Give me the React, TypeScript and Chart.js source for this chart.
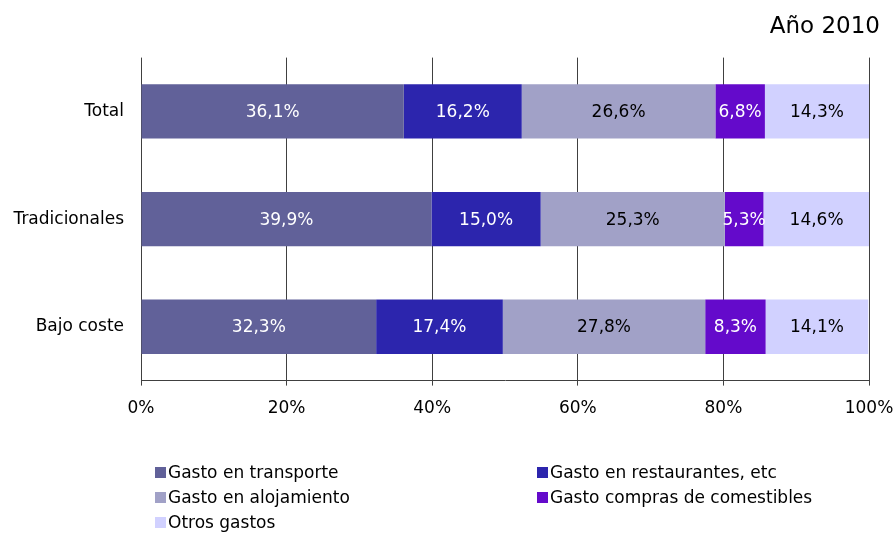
import React, { useEffect, useRef } from "react";
import { Chart, registerables } from "chart.js";

Chart.register(...registerables);

const categories = ["Total", "Tradicionales", "Bajo coste"];
const seriesNames = [
  "Gasto en transporte",
  "Gasto en restaurantes, etc",
  "Gasto en alojamiento",
  "Gasto compras de comestibles",
  "Otros gastos",
];
const transporte = [36.1, 39.9, 32.3];
const restaurantes = [16.2, 15.0, 17.4];
const alojamiento = [26.6, 25.3, 27.8];
const comestibles = [6.8, 5.3, 8.3];
const otros = [14.3, 14.6, 14.1];
const xTicks = [0, 20, 40, 60, 80, 100];
const titleText = "Año 2010";

const colors = ["#616199", "#2c25ad", "#a1a1c7", "#640acb", "#d1d1ff"];
const labelColors = ["#ffffff", "#ffffff", "#000000", "#ffffff", "#000000"];

const FONT = "'DejaVu Sans', Verdana, sans-serif";

const fmt = (v: number) => v.toFixed(1).replace(".", ",") + "%";

const labelsPlugin = {
  id: "segLabels",
  afterDatasetsDraw(chart: any) {
    const ctx = chart.ctx;
    ctx.save();
    ctx.font = `17px ${FONT}`;
    ctx.textAlign = "center";
    ctx.textBaseline = "middle";
    chart.data.datasets.forEach((ds: any, di: number) => {
      const meta = chart.getDatasetMeta(di);
      meta.data.forEach((bar: any, i: number) => {
        const { x, y, base } = bar.getProps(["x", "y", "base"], true);
        ctx.fillStyle = labelColors[di];
        ctx.fillText(fmt(ds.data[i]), (x + base) / 2, y + 1);
      });
    });
    ctx.restore();
  },
};

const legendPlugin = {
  id: "gridLegend",
  afterDraw(chart: any) {
    const ctx = chart.ctx;
    const area = chart.chartArea;
    ctx.save();
    ctx.font = `17px ${FONT}`;
    ctx.textBaseline = "middle";
    ctx.textAlign = "left";
    const colX = [area.left + 14, area.left + 396];
    const rowY0 = 473;
    const rowH = 25;
    chart.data.datasets.forEach((ds: any, i: number) => {
      const col = i % 2;
      const row = Math.floor(i / 2);
      const x = colX[col];
      const y = rowY0 + row * rowH;
      ctx.fillStyle = ds.backgroundColor;
      ctx.fillRect(x, y - 6, 11, 11);
      ctx.fillStyle = "#000";
      ctx.fillText(ds.label, x + 13, y + 1);
    });
    ctx.restore();
  },
};

export default function App() {
  const ref = useRef<HTMLCanvasElement | null>(null);
  useEffect(() => {
    document.body.style.margin = "0";
    const values = [transporte, restaurantes, alojamiento, comestibles, otros];
    const chart = new Chart(ref.current as HTMLCanvasElement, {
      type: "bar",
      data: {
        labels: categories,
        datasets: values.map((d, i) => ({
          label: seriesNames[i],
          data: d,
          backgroundColor: colors[i],
          borderWidth: 0,
          barPercentage: 1,
          categoryPercentage: 0.505,
        })),
      },
      options: {
        indexAxis: "y",
        animation: false,
        responsive: false,
        maintainAspectRatio: false,
        layout: { padding: { left: 0, right: 16, top: 0, bottom: 102 } },
        plugins: {
          legend: { display: false },
          tooltip: { enabled: false },
          title: {
            display: true,
            text: titleText,
            align: "end",
            color: "#000",
            font: { family: FONT, size: 23, weight: "normal" },
            lineHeight: 1.2,
            padding: { top: 13, bottom: 17 },
          },
        },
        scales: {
          x: {
            stacked: true,
            min: 0,
            max: 100,
            afterBuildTicks: (scale: any) => {
              scale.ticks = xTicks.map((v) => ({ value: v }));
            },
            afterFit: (scale: any) => {
              scale.paddingRight = 27;
              scale.paddingLeft = 0;
            },
            ticks: {
              callback: (v: any) => v + "%",
              color: "#000",
              font: { family: FONT, size: 17 },
              padding: 13,
              maxRotation: 0,
            },
            grid: {
              color: "#404040",
              lineWidth: 1,
              tickLength: 5,
              drawTicks: true,
            },
            border: { display: true, color: "#404040", width: 1 },
          },
          y: {
            stacked: true,
            afterFit: (scale: any) => {
              scale.width = 141;
            },
            ticks: {
              color: "#000",
              font: { family: FONT, size: 17 },
              padding: 17,
            },
            grid: { display: false, drawTicks: false },
            border: { display: false },
          },
        },
      },
      plugins: [labelsPlugin, legendPlugin],
    } as any);
    return () => chart.destroy();
  }, []);
  return (
    <div style={{ width: 896, height: 534, background: "#fff" }}>
      <canvas ref={ref} width={896} height={534} style={{ display: "block" }} />
    </div>
  );
}
